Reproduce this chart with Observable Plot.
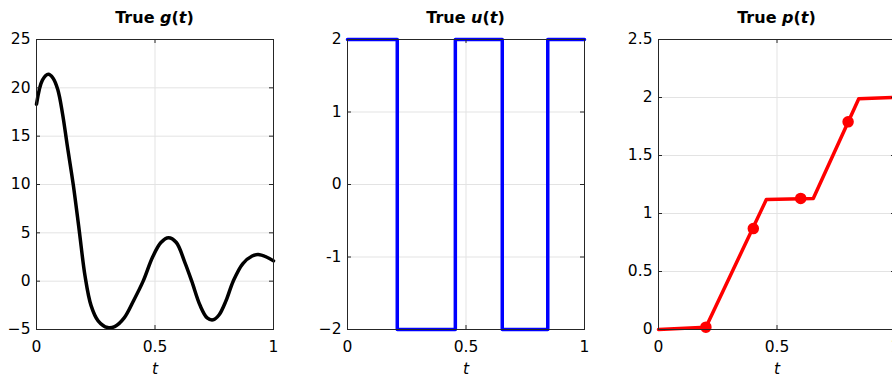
<!DOCTYPE html>
<html>
<head>
<meta charset="utf-8">
<script src="https://cdn.jsdelivr.net/npm/d3@7"></script>
<script src="https://cdn.jsdelivr.net/npm/@observablehq/plot@0.6"></script>
<style>
  html, body { margin: 0; padding: 0; background: #fff; }
  #chart { position: relative; width: 892px; height: 381px; overflow: hidden; background: #fff; }
  .panel { position: absolute; top: 0; width: 311px; }
  .title { position: absolute; top: 6px; left: 36px; width: 237px; text-align: center;
           font-family: "DejaVu Sans", sans-serif; font-size: 16px; font-weight: bold; color: #000; line-height: 24px; white-space: nowrap; }
  .panel svg { position: absolute; top: 30px; left: 0; }
  .panel svg [aria-label="x-axis label"] text, .panel svg [aria-label="x-axis label"] { font-style: italic; }
</style>
</head>
<body>
<div id="chart"></div>
<script>
// ---- data ----
const tG = [0, 0.025, 0.05, 0.07, 0.09, 0.11, 0.13, 0.155, 0.18, 0.205, 0.23, 0.26, 0.30, 0.33, 0.37, 0.41, 0.45, 0.49, 0.525, 0.557, 0.59, 0.625, 0.655, 0.69, 0.72, 0.745, 0.77, 0.80, 0.83, 0.87, 0.91, 0.935, 0.97, 1.0];
const gVals = [18.3, 20.8, 21.4, 21.0, 19.8, 17.3, 14.0, 10.0, 5.3, 0.5, -2.5, -4.1, -4.8, -4.7, -3.8, -2, 0, 2.5, 4.0, 4.5, 4.0, 2.0, 0, -2.5, -3.8, -4.0, -3.5, -2.0, 0, 1.8, 2.6, 2.75, 2.5, 2.1];

const tU = [0, 0.21, 0.455, 0.653, 0.845, 1];
const uVals = [2, -2, 2, -2, 2, 2];

const tP = [0, 0.2, 0.455, 0.653, 0.845, 1];
const pVals = [0, 0.02, 1.12, 1.13, 1.99, 2.0];
const tPm = [0.2, 0.4, 0.6, 0.8];
const pMarks = [0.02, 0.87, 1.13, 1.79];

const xTicks = [0, 0.5, 1];
const gTicks = [-5, 0, 5, 10, 15, 20, 25];
const uTicks = [-2, -1, 0, 1, 2];
const pTicks = [0, 0.5, 1, 1.5, 2, 2.5];
const gTickLabels = ["\u22125", "0", "5", "10", "15", "20", "25"];
const uTickLabels = ["\u22122", "-1", "0", "1", "2"];
const pTickLabels = ["0", "0.5", "1", "1.5", "2", "2.5"];
const xTickLabels = ["0", "0.5", "1"];

const titles = [
  'True <i>g</i>(<i>t</i>)',
  'True <i>u</i>(<i>t</i>)',
  'True <i>p</i>(<i>t</i>)'
];
const panelLefts = [0, 311, 622];

const gData = tG.map((t, i) => ({t, v: gVals[i]}));
const uData = tU.map((t, i) => ({t, v: uVals[i]}));
const pData = tP.map((t, i) => ({t, v: pVals[i]}));
const pMarkData = tPm.map((t, i) => ({t, v: pMarks[i]}));

const W = 311, H = 351, ML = 36, MR = 38, MT = 9, MB = 52;
const PW = W - ML - MR, PH = H - MT - MB;
const axisColor = "#262626";
const gridColor = "#e3e3e3";

function makePanel(yDomain, yTicks, yLabels, dataMarks) {
  return Plot.plot({
    width: W, height: H,
    marginLeft: ML, marginRight: MR, marginTop: MT, marginBottom: MB,
    style: {fontFamily: "DejaVu Sans, sans-serif", fontSize: "15.5px", color: "#000", background: "transparent", overflow: "visible"},
    x: {domain: [0, 1]},
    y: {domain: yDomain},
    marks: [
      Plot.gridX([0.5], {stroke: gridColor, strokeOpacity: 1}),
      Plot.gridY(yTicks, {stroke: gridColor, strokeOpacity: 1}),
      ...dataMarks,
      Plot.frame({stroke: axisColor, strokeWidth: 1}),
      Plot.tickY(yTicks, {y: d => d, stroke: axisColor, insetRight: PW - 4}),
      Plot.tickY(yTicks, {y: d => d, stroke: axisColor, insetLeft: PW - 4}),
      Plot.tickX(xTicks, {x: d => d, stroke: axisColor, insetTop: PH - 4}),
      Plot.tickX(xTicks, {x: d => d, stroke: axisColor, insetBottom: PH - 4}),
      Plot.axisY(yTicks, {tickSize: 0, tickPadding: 6, tickFormat: (d, i) => yLabels[i], label: null}),
      Plot.axisX(xTicks, {tickSize: 0, tickPadding: 11, tickFormat: (d, i) => xTickLabels[i],
        label: "t", labelAnchor: "center", labelArrow: "none", labelOffset: 44})
    ]
  });
}

const plots = [
  makePanel([-5, 25], gTicks, gTickLabels, [
    Plot.line(gData, {x: "t", y: "v", stroke: "#000", strokeWidth: 3.5, curve: "catmull-rom"})
  ]),
  makePanel([-2, 2], uTicks, uTickLabels, [
    Plot.line(uData, {x: "t", y: "v", stroke: "#0000ff", strokeWidth: 3.5, curve: "step-after"})
  ]),
  makePanel([0, 2.5], pTicks, pTickLabels, [
    Plot.line(pData, {x: "t", y: "v", stroke: "#ff0000", strokeWidth: 3.5}),
    Plot.dot(pMarkData, {x: "t", y: "v", r: 5, fill: "#ff0000", stroke: "#ff0000"})
  ])
];

const chart = document.getElementById("chart");
plots.forEach((svg, i) => {
  const div = document.createElement("div");
  div.className = "panel";
  div.style.left = panelLefts[i] + "px";
  div.style.height = "381px";
  const title = document.createElement("div");
  title.className = "title";
  title.innerHTML = titles[i];
  div.appendChild(title);
  div.appendChild(svg);
  chart.appendChild(div);
});
</script>
</body>
</html>
